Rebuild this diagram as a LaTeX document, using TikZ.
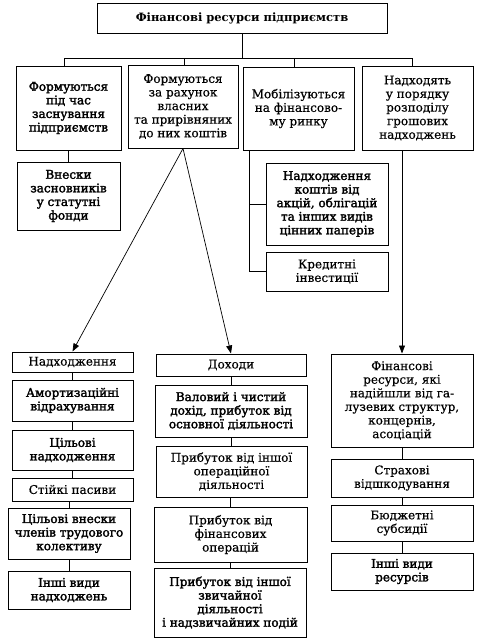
\documentclass[tikz,border=0pt]{standalone}
\usepackage{fontspec}
\setmainfont{DejaVu Serif}
\newfontfamily\fbold[FakeBold=2.2]{DejaVu Serif}
\newfontfamily\freg[FakeBold=0.5]{DejaVu Serif}
\usetikzlibrary{arrows.meta}
\newcommand\fs{\fontsize{12}{13.6}\selectfont}
\newcommand\mybox[7][]{\node[bx,#1,minimum width={(#4-#2)*1pt},minimum height={(#5-#3)*1pt}] (#6) at ({(#2+#4)/2},{(#3+#5)/2}) {#7};}
\tikzset{
  bx/.style={draw,line width=1pt,align=center,inner sep=0pt,font=\fs\freg},
  bf/.style={font=\fs\fbold},
  tt/.style={font=\fontsize{11.5}{13.6}\selectfont\bfseries},
  ln/.style={line width=0.7pt},
  arr/.style={ln,-{Triangle[length=8pt,width=6pt]}}
}
\begin{document}
\begin{tikzpicture}[x=1pt,y=-1pt]
\useasboundingbox (0,0) rectangle (486,643);
\mybox[tt]{97}{3}{387}{33}{top}{Фінансові ресурси підприємств}
% row 2
\mybox[bf]{16}{66}{121}{150}{b1}{Формуються\\під час\\заснування\\підприємств}
\mybox{128}{65}{238}{148}{b2}{Формуються\\за рахунок\\власних\\та прирівняних\\до них коштів}
\mybox{243}{67}{354}{150}{b3}{Мобілізуються\\на фінансово-\\му ринку}
\mybox{362}{66}{473}{150}{b4}{Надходять\\у порядку\\розподілу\\грошових\\надходжень}
% row 3
\mybox[bf]{17}{162}{120}{230}{vn}{Внески\\засновників\\у статутні\\фонди}
\mybox[bf]{266}{163}{388}{245}{nk}{Надходження\\коштів від\\акцій, облігацій\\та інших видів\\цінних паперів}
\mybox{266}{252}{388}{291}{kr}{Кредитні\\інвестиції}
% column 1
\mybox{12}{352}{133}{372}{nad}{Надходження}
\mybox[bf]{12}{380}{133}{421}{am}{Амортизаційні\\відрахування}
\mybox[bf]{12}{430}{133}{470}{cn}{Цільові\\надходження}
\mybox{12}{478}{133}{501}{st}{Стійкі пасиви}
\mybox[bf]{8}{508}{130}{559}{cv}{Цільові внески\\членів трудового\\колективу}
\mybox[bf]{8}{571}{130}{609}{inn}{Інші види\\надходжень}
% column 2
\mybox{156}{354}{306}{376}{doh}{Доходи}
\mybox[bf]{155}{385}{307}{437}{val}{Валовий і чистий\\дохід, прибуток від\\основної діяльності}
\mybox{156}{446}{307}{497}{po}{Прибуток від іншої\\операційної\\діяльності}
\mybox{154}{507}{307}{562}{pf}{Прибуток від\\фінансових\\операцій}
\mybox[bf]{154}{568}{306}{637}{pz}{Прибуток від іншої\\звичайної\\діяльності\\і надзвичайних подій}
% column 3
\mybox{331}{354}{473}{447}{fin}{Фінансові\\ресурси, які\\надійшли від га-\\лузевих структур,\\концернів,\\асоціацій}
\mybox{331}{459}{473}{497}{str}{Страхові\\відшкодування}
\mybox{331}{505}{473}{541}{bs}{Бюджетні\\субсидії}
\mybox[bf]{331}{553}{473}{590}{ir}{Інші види\\ресурсів}
% bus
\coordinate (busL) at (64,58);
\coordinate (busR) at (412,58);
\coordinate (d2) at (184,58);
\coordinate (d3) at (294,58);
\draw[ln] (top.south) -- (top.south |- busL);
\draw[ln] (busL) -- (busR);
\draw[ln] (busL) -- (busL |- b1.north);
\draw[ln] (d2) -- (d2 |- b2.north);
\draw[ln] (d3) -- (d3 |- b3.north);
\draw[ln] (busR) -- (busR |- b4.north);
% row 2 -> row 3
\draw[ln] (vn.north |- b1.south) -- (vn.north);
\coordinate (t3) at ([xshift=7pt]b3.south west);
\draw[ln] (t3) -- (t3 |- kr.west) -- (kr.west);
\draw[ln] (t3 |- nk.west) -- (nk.west);
% arrows
\draw[arr] (b2.south) -- (nad.north);
\draw[arr] (b2.south) -- (doh.north);
\draw[arr] (fin.north |- b4.south) -- (fin.north);
% chains
\foreach \a/\b in {nad/am,am/cn,cn/st,st/cv,cv/inn,doh/val,val/po,po/pf,pf/pz,fin/str,str/bs,bs/ir}
  \draw[ln] (\b.north |- \a.south) -- (\b.north);
\end{tikzpicture}
\end{document}
